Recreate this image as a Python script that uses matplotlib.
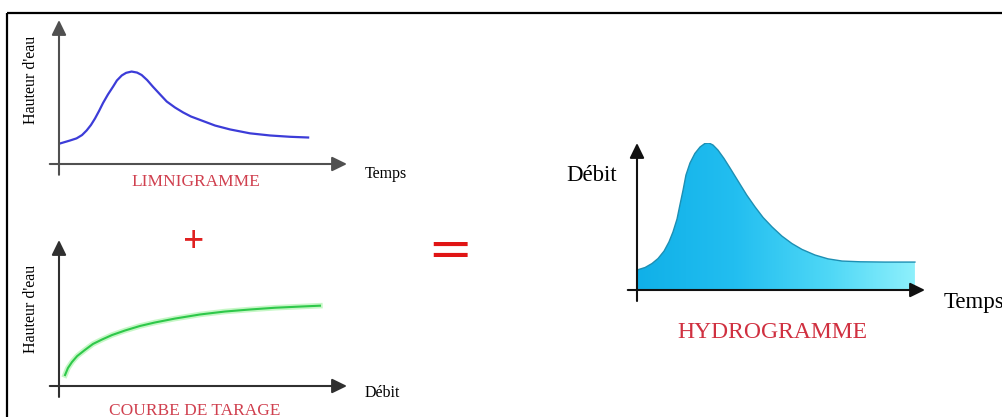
import numpy as np
import matplotlib.pyplot as plt
from matplotlib.colors import LinearSegmentedColormap
from matplotlib.patches import Polygon

# limnigramme : hauteur d'eau en fonction du temps
temps_limni = [0.06, 0.38, 0.61, 0.80, 0.96, 1.11, 1.25, 1.39, 1.53, 1.70,
               1.88, 2.01, 2.18, 2.33, 2.52, 2.71, 2.87, 3.06, 3.26, 3.51,
               3.74, 4.03, 4.31, 4.58, 4.90, 5.42, 5.94, 6.63, 7.33, 8.02, 8.65]
hauteur_limni = [1.44, 1.63, 1.78, 2.01, 2.33, 2.71, 3.16, 3.68, 4.24, 4.83,
                 5.38, 5.80, 6.15, 6.33, 6.42, 6.35, 6.18, 5.83, 5.37, 4.83,
                 4.34, 3.92, 3.58, 3.30, 3.06, 2.67, 2.40, 2.13, 1.98, 1.89, 1.84]

# courbe de tarage : hauteur d'eau en fonction du debit
debit_tarage = [0.21, 0.31, 0.45, 0.63, 0.90, 1.18, 1.49, 1.84, 2.29, 2.81,
                3.33, 4.03, 4.90, 5.76, 6.63, 7.50, 8.37, 9.06]
hauteur_tarage = [0.75, 1.23, 1.64, 2.05, 2.47, 2.88, 3.18, 3.49, 3.80, 4.11,
                  4.35, 4.62, 4.90, 5.10, 5.24, 5.36, 5.44, 5.50]

# hydrogramme : debit en fonction du temps
temps_hydro = [0.0, 0.28, 0.52, 0.73, 0.94, 1.11, 1.25, 1.39, 1.49, 1.60,
               1.70, 1.84, 2.01, 2.19, 2.36, 2.50, 2.64, 2.81, 3.02, 3.23,
               3.51, 3.81, 4.10, 4.38, 4.69, 5.03, 5.38, 5.73, 6.18, 6.63,
               7.12, 7.74, 8.61, 9.65]
debit_hydro = [1.36, 1.53, 1.80, 2.14, 2.65, 3.27, 3.95, 4.83, 5.78, 6.80,
               7.82, 8.64, 9.29, 9.73, 9.97, 10.0, 9.86, 9.52, 8.95, 8.30,
               7.41, 6.46, 5.65, 4.93, 4.29, 3.67, 3.16, 2.76, 2.38, 2.12,
               1.97, 1.92, 1.90, 1.90]

W, H = 1003, 417
plt.rcParams['font.family'] = ['Liberation Serif', 'DejaVu Serif']

fig = plt.figure(figsize=(W / 100, H / 100), dpi=100)

# fond en pixels pour le cadre et les textes
bg = fig.add_axes([0, 0, 1, 1])
bg.set_xlim(0, W)
bg.set_ylim(H, 0)
bg.axis('off')
bg.plot([7, W], [13, 13], color='black', lw=1.6, solid_capstyle='butt')
bg.plot([7.5, 7.5], [12.5, H], color='black', lw=1.6, solid_capstyle='butt')


def panel(ox, oy, tipx, tipy, col='#3a3a3a'):
    ax = fig.add_axes([ox / W, 1 - oy / H, (tipx - ox) / W, (oy - tipy) / H])
    ax.set_xlim(0, 10)
    ax.set_ylim(0, 10)
    ax.axis('off')
    arr = dict(arrowstyle='-|>,head_length=0.45,head_width=0.22', color=col,
               lw=1.5, mutation_scale=20, shrinkA=0, shrinkB=0)
    ax.annotate('', xy=(10, 0), xytext=(-0.32, 0), arrowprops=arr,
                annotation_clip=False)
    ax.annotate('', xy=(0, 10), xytext=(0, -0.75), arrowprops=arr,
                annotation_clip=False)
    return ax


# limnigramme
ax1 = panel(59, 164, 347, 20, '#505050')
ax1.plot(temps_limni, hauteur_limni, color='#3c3cd8', lw=1.6,
         solid_joinstyle='round')
bg.text(365, 178, 'Temps', fontsize=11.5, ha='left', va='baseline')
bg.text(196, 186, 'LIMNIGRAMME', fontsize=12.5, color='#d0404f',
        ha='center', va='baseline')
bg.text(31, 80, "Hauteur d'eau", fontsize=11.5, rotation=90,
        ha='center', va='center')

# courbe de tarage
ax2 = panel(59, 386, 347, 240, '#303030')
ax2.plot(debit_tarage, hauteur_tarage, color='#b8f5b8', lw=4, alpha=0.8,
         solid_joinstyle='round')
ax2.plot(debit_tarage, hauteur_tarage, color='#2ec84a', lw=1.5,
         solid_joinstyle='round')
bg.text(365, 397, 'Débit', fontsize=11.5, ha='left', va='baseline')
bg.text(195, 415, 'COURBE DE TARAGE', fontsize=12.5, color='#d0404f',
        ha='center', va='baseline')
bg.text(31, 309, "Hauteur d'eau", fontsize=11.5, rotation=90,
        ha='center', va='center')

# signes
bg.text(194, 242, '+', fontsize=27, fontweight='bold', color='#e02020',
        ha='center', va='center')
bg.text(450, 251, '=', fontsize=39, color='#e01515', ha='center', va='center',
        family='DejaVu Sans')

# hydrogramme
ax3 = panel(637, 290, 925, 143, '#111111')
cmap = LinearSegmentedColormap.from_list(
    'eau', [(0, '#10b0e8'), (0.35, '#22bef0'), (0.7, '#50d8f6'), (1, '#8ef0fc')])
grad = np.linspace(0, 1, 256).reshape(1, -1)
img = ax3.imshow(grad, cmap=cmap, aspect='auto', zorder=1,
                 extent=[temps_hydro[0], temps_hydro[-1], 0, 10.5])
poly = Polygon(list(zip(temps_hydro, debit_hydro))
               + [(temps_hydro[-1], 0), (temps_hydro[0], 0)],
               closed=True, facecolor='none', edgecolor='none')
ax3.add_patch(poly)
img.set_clip_path(poly)
ax3.plot(temps_hydro, debit_hydro, color='#1d8fb3', lw=1.0, zorder=2,
         solid_joinstyle='round')
ax3.set_xlim(0, 10)
ax3.set_ylim(0, 10)
bg.text(566, 181, 'Débit', fontsize=16.5, ha='left', va='baseline')
bg.text(944, 308, 'Temps', fontsize=16.5, ha='left', va='baseline')
bg.text(772, 338, 'HYDROGRAMME', fontsize=17, color='#d03040',
        ha='center', va='baseline')

fig.savefig('out.png', dpi=100)
